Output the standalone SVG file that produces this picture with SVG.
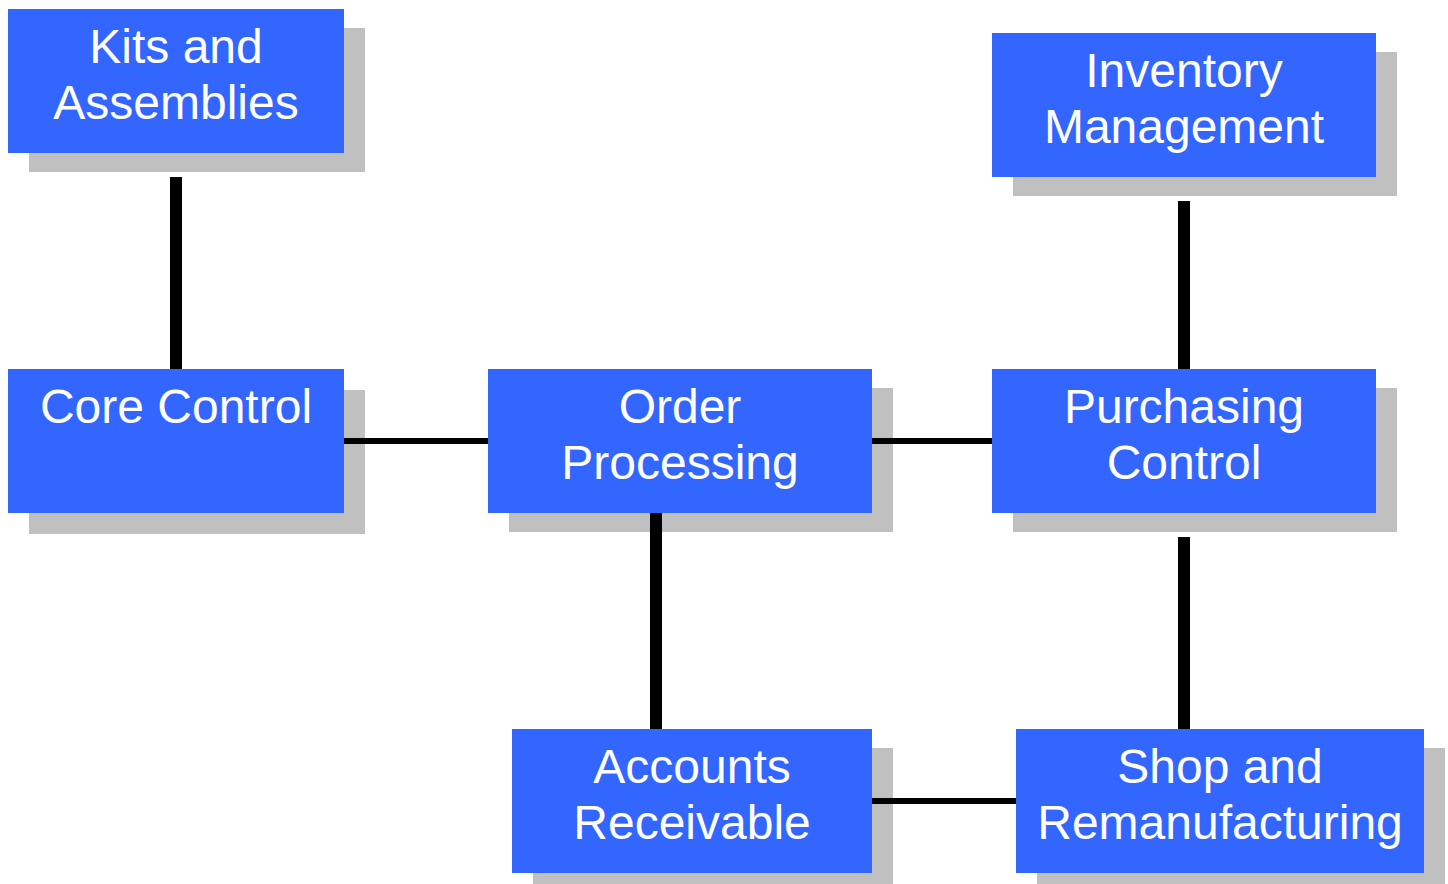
<svg xmlns="http://www.w3.org/2000/svg" width="1448" height="884" viewBox="0 0 1448 884">
<style>
.sh{fill:#C0C0C0}
.bx{fill:#3366FF}
.t{font-family:"Liberation Sans",Arial,sans-serif;font-size:48px;fill:#FFFFFF;text-anchor:middle}
.v{stroke:#000;stroke-width:12;fill:none}
.h{stroke:#000;stroke-width:6;fill:none}
</style>
<rect width="1448" height="884" fill="#FFFFFF"/>
<g id="kits">
<rect class="sh" x="29" y="28" width="336" height="144"/>
<rect class="bx" x="8" y="9" width="336" height="144"/>
<text class="t" x="176" y="63">Kits and</text>
<text class="t" x="176" y="119">Assemblies</text>
</g>
<g id="inventory">
<rect class="sh" x="1013" y="52" width="384" height="144"/>
<rect class="bx" x="992" y="33" width="384" height="144"/>
<text class="t" x="1184" y="87">Inventory</text>
<text class="t" x="1184" y="143">Management</text>
</g>
<g id="core">
<rect class="sh" x="29" y="390" width="336" height="144"/>
<rect class="bx" x="8" y="369" width="336" height="144"/>
<text class="t" x="176" y="423">Core Control</text>
</g>
<g id="order">
<rect class="sh" x="509" y="388" width="384" height="144"/>
<rect class="bx" x="488" y="369" width="384" height="144"/>
<text class="t" x="680" y="423">Order</text>
<text class="t" x="680" y="479">Processing</text>
</g>
<g id="purchasing">
<rect class="sh" x="1013" y="388" width="384" height="144"/>
<rect class="bx" x="992" y="369" width="384" height="144"/>
<text class="t" x="1184" y="423">Purchasing</text>
<text class="t" x="1184" y="479">Control</text>
</g>
<g id="accounts">
<rect class="sh" x="533" y="748" width="360" height="144"/>
<rect class="bx" x="512" y="729" width="360" height="144"/>
<text class="t" x="692" y="783">Accounts</text>
<text class="t" x="692" y="839">Receivable</text>
</g>
<g id="shop">
<rect class="sh" x="1037" y="748" width="408" height="144"/>
<rect class="bx" x="1016" y="729" width="408" height="144"/>
<text class="t" x="1220" y="783">Shop and</text>
<text class="t" x="1220" y="839">Remanufacturing</text>
</g>
<g id="connectors">
<line class="v" x1="176" y1="177" x2="176" y2="369"/>
<line class="v" x1="1184" y1="201" x2="1184" y2="369"/>
<line class="v" x1="656" y1="513" x2="656" y2="729"/>
<line class="v" x1="1184" y1="537" x2="1184" y2="729"/>
<line class="h" x1="344" y1="441" x2="488" y2="441"/>
<line class="h" x1="872" y1="441" x2="992" y2="441"/>
<line class="h" x1="872" y1="801" x2="1016" y2="801"/>
</g>
</svg>
